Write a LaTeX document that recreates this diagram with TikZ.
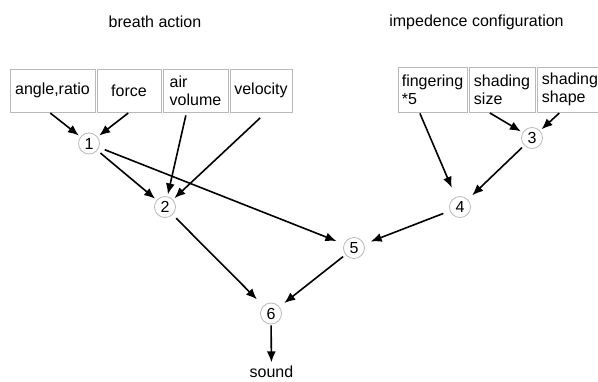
\documentclass[tikz,border=0pt]{standalone}
\usepackage{fontspec}
\setmainfont{Liberation Sans}
\usetikzlibrary{arrows.meta}
\begin{document}
\begin{tikzpicture}[x=1pt,y=-1pt,
  font=\fontsize{16}{18}\selectfont,
  inbox/.style={draw=gray!55,line width=0.9pt,minimum height=43pt,inner sep=2pt,align=left},
  numnode/.style={circle,draw=gray!55,line width=0.8pt,minimum size=21pt,inner sep=0pt},
  arr/.style={-{Latex[length=11pt,width=9pt]},line width=1.6pt,shorten <=4pt,shorten >=2pt}]
\useasboundingbox (0,0) rectangle (598,381);

\node (breath) at (155,22) {breath action};
\node (imped) at (476.5,22) {impedence configuration};

% input boxes
\node[inbox,minimum width=85pt] (angle) at (52.5,90.5) {angle,ratio};
\node[inbox,minimum width=64pt] (force) at (129,90.5) {force};
\node[inbox,minimum width=65pt] (airvol) at (195.5,90.5) {air\\volume};
\node[inbox,minimum width=62pt] (veloc) at (261,90.5) {velocity};
\node[inbox,minimum width=69pt,minimum height=45pt] (finger) at (432.5,89.5) {fingering\\*5};
\node[inbox,minimum width=66pt,minimum height=45pt] (shsize) at (502,89.5) {shading\\size};
\node[inbox,minimum width=66pt,minimum height=45pt] (shshape) at (570,89.5) {shading\\shape};

% numbered nodes
\node[numnode] (n1) at (89,143.5) {1};
\node[numnode] (n2) at (165,207) {2};
\node[numnode] (n3) at (532,138) {3};
\node[numnode] (n4) at (460,207) {4};
\node[numnode] (n5) at (354,248) {5};
\node[numnode] (n6) at (271,313.5) {6};
\node[inner sep=1pt] (sound) at (271.5,371.5) {sound};

\draw[arr,shorten <=1pt] ([xshift=-3pt]angle.south) -- (n1);
\draw[arr,shorten <=1pt] (force.south) -- (n1);
\draw[arr] (n1) -- (n2);
\draw[arr,shorten <=6pt,shorten >=8pt] (n1) -- (n5);
\draw[arr,shorten <=3pt] ([xshift=-9pt]airvol.south) -- (n2);
\draw[arr,shorten <=8pt] ([xshift=5pt]veloc.south) -- (n2);
\draw[arr,shorten <=1pt,shorten >=10pt] ([xshift=-13pt]finger.south) -- (n4);
\draw[arr,shorten <=1pt] ([xshift=-13pt]shsize.south) -- (n3);
\draw[arr,shorten <=1pt] ([xshift=-10pt]shshape.south) -- (n3);
\draw[arr,shorten <=3pt,shorten >=6pt] (n3) -- (n4);
\draw[arr,shorten <=7pt,shorten >=7pt] (n4) -- (n5);
\draw[arr,shorten <=5pt,shorten >=9pt] (n2) -- (n6);
\draw[arr,shorten <=3pt,shorten >=6pt] (n5) -- (n6);
\draw[arr,shorten <=1pt,shorten >=2pt] (n6) -- (sound);
\end{tikzpicture}
\end{document}
